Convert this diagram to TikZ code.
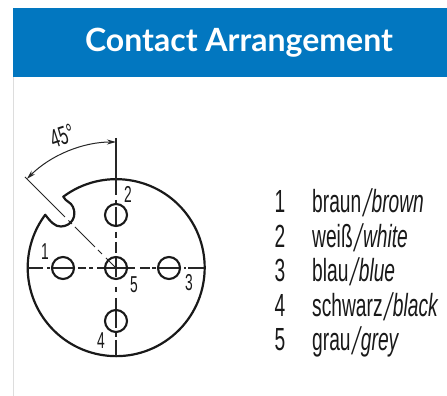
\documentclass[tikz,border=0pt]{standalone}
\usepackage{fontspec}
\usepackage{graphicx}
\setmainfont{Liberation Sans}
\newfontfamily\titlefont{Lato}
\newfontfamily\slashfont[FakeSlant=0.4]{Liberation Sans}
\usetikzlibrary{arrows.meta}
\definecolor{bandblue}{HTML}{0277C0}
\definecolor{edgegrey}{HTML}{DDDDDD}
\tikzset{
  x=1pt,y=1pt,
  outline/.style={line width=2.2pt,black!90},
  pin/.style={circle,draw=black!90,line width=2.1pt,minimum size=22pt,inner sep=0pt},
  axis/.style={line width=1.2pt,black!85},
  thin line/.style={line width=1pt,black!85},
  pinlabel/.style={inner sep=0pt,font=\fontsize{23}{23}\selectfont,black!90},
  rowtext/.style={inner sep=0pt,anchor=base west,font=\fontsize{32}{32}\selectfont,black!90},
  rownum/.style={inner sep=0pt,anchor=base,font=\fontsize{32}{32}\selectfont,black!90}
}
\newcommand{\cnd}[1]{\scalebox{.6}[1]{#1}}
\newcommand{\slashmark}{\hspace{.06em}\raisebox{-.1em}{\scalebox{1}[1.2]{\slashfont/}}\hspace{.2em}}
\begin{document}
\begin{tikzpicture}
\useasboundingbox (0,0) rectangle (447,396);
\fill[white] (0,0) rectangle (447,396);
\fill[edgegrey] (13,0) rectangle (14,320);
\fill[bandblue] (13,319) rectangle (447,388);
\node[text=white,inner sep=0pt,font=\titlefont\bfseries\fontsize{32}{32}\selectfont] (title) at (239,353) {Contact Arrangement};

\coordinate (C) at (116,128);
% outer contour with key notch
\draw[outline,line join=round] (63.3,199.3) arc[start angle=126.7,end angle=-216.7,radius=88.5]
  .. controls (50,175) and (55,169) .. (61,169.5)
  .. controls (72,170) and (77,180) .. (73,189)
  .. controls (71,194) and (66,194) .. cycle;

% vertical centre line
\foreach \a/\b in {258/201,196/193,189/169,164/158,154/143,138/119,109/104,98/68,63/59,56/40}
  \draw[axis] (116,\a) -- (116,\b);
% horizontal centre line
\foreach \a/\b in {28/43,47/50,52/75,78/86,89/93,97/135,140/150,152/156,159/181,184/186,188/204}
  \draw[axis] (\a,128) -- (\b,128);
% 45 degree line
\draw[thin line] (25,219) -- (65,179);
\draw[thin line] (68.5,175.5) -- (72,172);
\draw[thin line] (75,169) -- (95,149);
\draw[thin line] (98,146) -- (102,142);
\draw[thin line] (106,138) -- (116,128);

% dimension arc
\draw[line width=1pt,black!85,{Stealth[length=9pt,width=5pt]}-{Stealth[length=9pt,width=5pt]}]
  (116,254) .. controls (82.6,254) and (50.5,240.7) .. (26.9,217.1);

\node[pin] (p1) at (63,128) {};
\node[pin] (p2) at (116,181) {};
\node[pin] (p3) at (169,128) {};
\node[pin] (p4) at (116,75) {};
\node[pin] (p5) at (116,128) {};

\node[pinlabel] (l1) at (45,144) {\cnd{1}};
\node[pinlabel] (l2) at (128,202) {\cnd{2}};
\node[pinlabel] (l3) at (189,113) {\cnd{3}};
\node[pinlabel] (l4) at (101,55) {\cnd{4}};
\node[pinlabel] (l5) at (134,111) {\cnd{5}};
\node[pinlabel,rotate=18,font=\fontsize{26}{26}\selectfont] (ang) at (62,260) {\cnd{45°}};

\foreach \n/\y/\d/\de/\en in {a/183/1/braun/brown,b/148/2/weiß/white,c/114/3/blau/blue,d/79/4/schwarz/black,e/45/5/grau/grey}{
  \node[rownum] (n\n) at (280,\y) {\cnd{\d}};
  \node[rowtext] (t\n) at (312,\y) {\cnd{\de\slashmark\textit{\en}}};
}
\end{tikzpicture}
\end{document}
